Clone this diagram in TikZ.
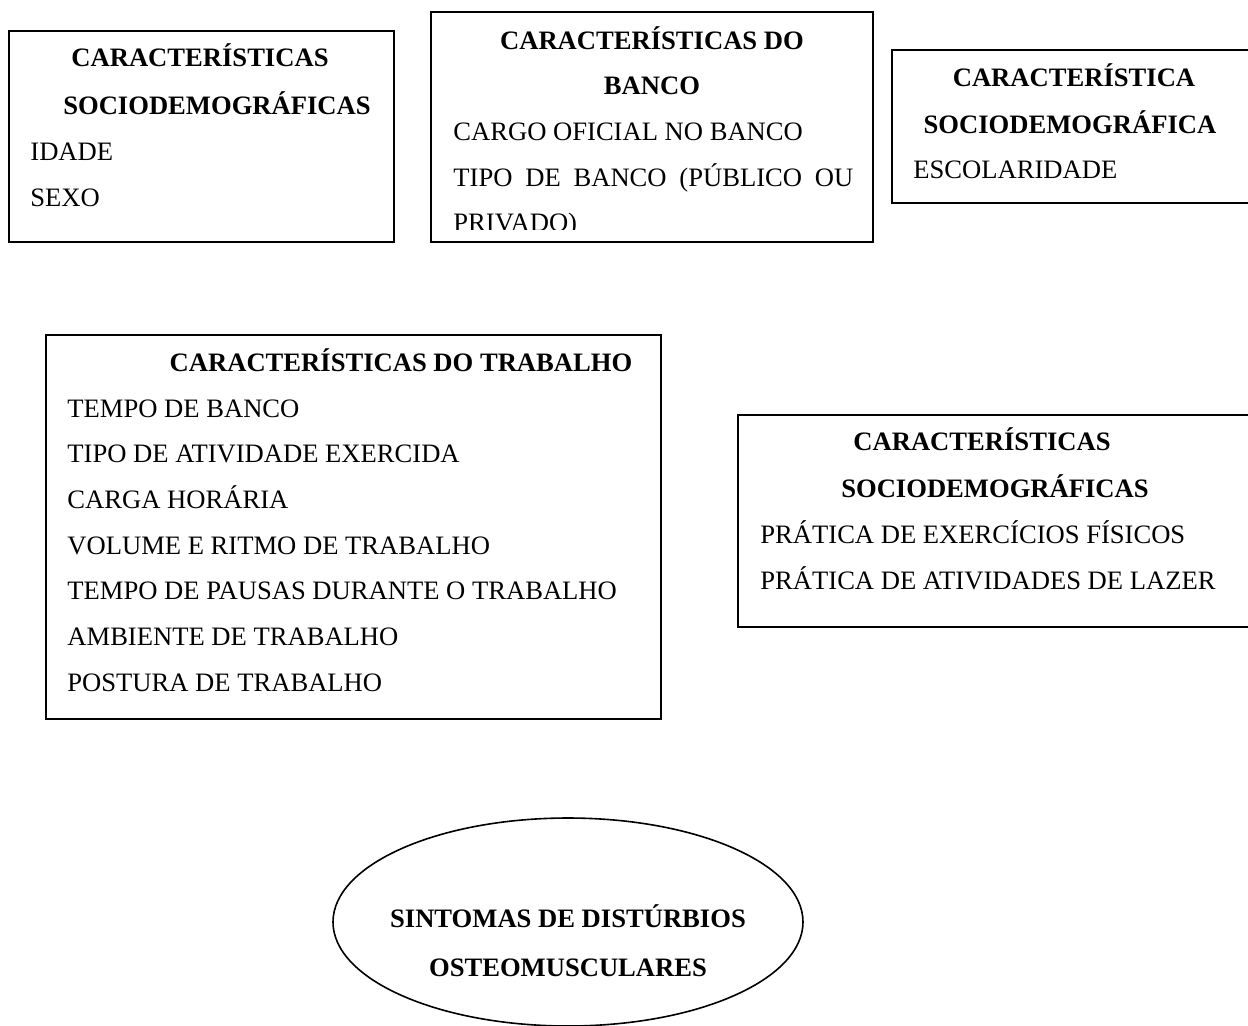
\documentclass[tikz,border=0pt]{standalone}
\usepackage{fontspec}
\setmainfont{Liberation Serif}
\usepackage{tikz}
\usetikzlibrary{positioning,fit,shapes.geometric}
\tikzset{
  box/.style  = {draw, line width=0.8pt, inner sep=0pt},
  ttl/.style  = {font=\fontsize{13.3}{23}\selectfont\bfseries, inner sep=0pt, anchor=base},
  item/.style = {font=\fontsize{13.3}{23}\selectfont, inner sep=0pt, anchor=base west},
  oval/.style = {draw, ellipse, line width=0.8pt, inner sep=0pt},
}
\begin{document}
\begin{tikzpicture}[x=0.5pt, y=-0.5pt]
\useasboundingbox (0,0) rectangle (1248,1025);

% top row
\node[box, fit={(9,31) (394,242)}] (sdA) {};
\node[ttl] (sdA-t1) at (200,66) {CARACTERÍSTICAS};
\node[ttl] (sdA-t2) at (217,114) {SOCIODEMOGRÁFICAS};
\foreach \t [count=\i] in {IDADE, SEXO}
  {\node[item] (sdA-\i) at (30,160+46*\i-46) {\t};}

\node[box, fit={(431,12) (873,242)}] (banco) {};
\node[ttl] (banco-t1) at (652,49) {CARACTERÍSTICAS DO};
\node[ttl] (banco-t2) at (652,94) {BANCO};
\node[item] (banco-1) at (453,140) {CARGO OFICIAL NO BANCO};
\node[item] (banco-2) at (453,186) {\makebox[200pt][s]{TIPO DE BANCO (PÚBLICO OU}};
\begin{scope}
  \clip (431,12) rectangle (873,229);
  \node[item] (banco-3) at (453,231) {PRIVADO)};
\end{scope}

\node[box, fit={(892,50) (1262,203)}] (escol) {};
\node[ttl] (escol-t1) at (1074,86) {CARACTERÍSTICA};
\node[ttl] (escol-t2) at (1070,133) {SOCIODEMOGRÁFICA};
\node[item] (escol-1) at (913,178) {ESCOLARIDADE};

% middle
\node[box, fit={(46,335) (661,719)}] (trab) {};
\node[ttl] (trab-t) at (401,371) {CARACTERÍSTICAS DO TRABALHO};
\foreach \t [count=\i] in {TEMPO DE BANCO, TIPO DE ATIVIDADE EXERCIDA, CARGA HORÁRIA,
    VOLUME E RITMO DE TRABALHO, TEMPO DE PAUSAS DURANTE O TRABALHO,
    AMBIENTE DE TRABALHO, POSTURA DE TRABALHO}
  {\node[item] (trab-\i) at (67,417+45.7*\i-45.7) {\t};}

\node[box, fit={(738,415) (1262,627)}] (lazer) {};
\node[ttl] (lazer-t1) at (982,450) {CARACTERÍSTICAS};
\node[ttl] (lazer-t2) at (995,497) {SOCIODEMOGRÁFICAS};
\node[item] (lazer-1) at (760,543) {PRÁTICA DE EXERCÍCIOS FÍSICOS};
\node[item] (lazer-2) at (760,589) {PRÁTICA DE ATIVIDADES DE LAZER};

% outcome
\node[oval, minimum width=235pt, minimum height=104pt] (sint) at (568,922) {};
\node[ttl] (sint-t1) at (568,927) {SINTOMAS DE DISTÚRBIOS};
\node[ttl] (sint-t2) at (568,976) {OSTEOMUSCULARES};
\end{tikzpicture}
\end{document}
